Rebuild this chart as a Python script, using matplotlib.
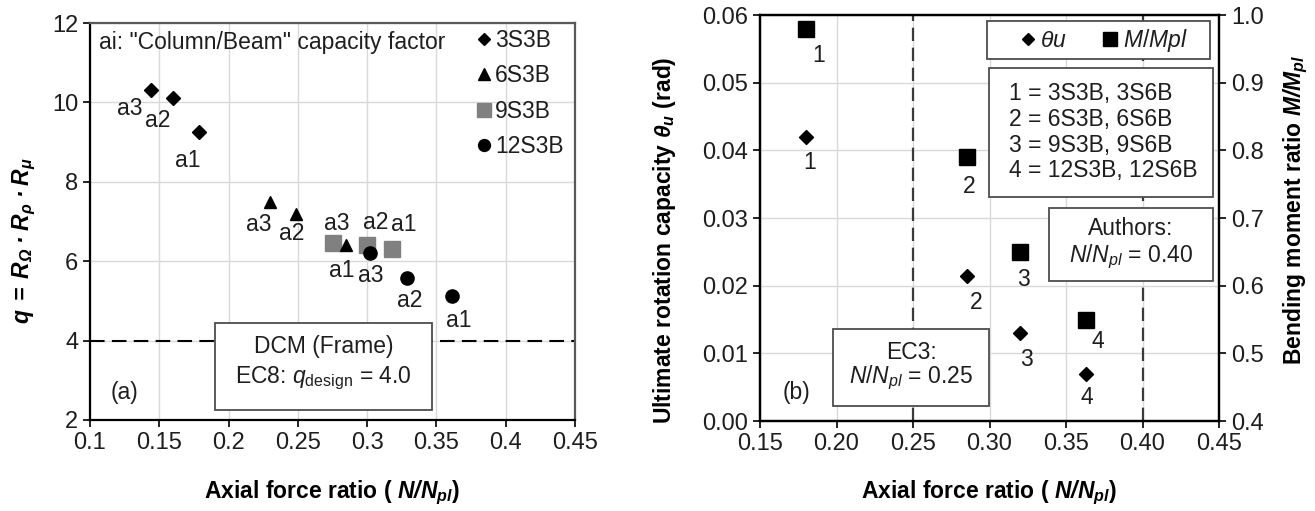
import matplotlib
matplotlib.use("Agg")
import matplotlib.pyplot as plt
from matplotlib.patches import Rectangle

plt.rcParams['font.family'] = ['Liberation Sans', 'DejaVu Sans']
plt.rcParams['mathtext.fontset'] = 'custom'
plt.rcParams['mathtext.rm'] = 'Liberation Sans'
plt.rcParams['mathtext.it'] = 'Liberation Sans:italic'
plt.rcParams['mathtext.bf'] = 'Liberation Sans:bold'
plt.rcParams['mathtext.bfit'] = 'Liberation Sans:bold:italic'
plt.rcParams['mathtext.default'] = 'it'

# ---------------- data: (a) behaviour factor vs axial force ratio ----------------
point_labels = ['a3', 'a2', 'a1']
x_3s3b = [0.144, 0.160, 0.179]
q_3s3b = [10.30, 10.10, 9.25]
x_6s3b = [0.230, 0.249, 0.285]
q_6s3b = [7.50, 7.20, 6.40]
x_9s3b = [0.275, 0.300, 0.318]
q_9s3b = [6.45, 6.40, 6.30]
x_12s3b = [0.302, 0.329, 0.361]
q_12s3b = [6.20, 5.58, 5.12]
q_design = 4.0

xticks_a = [0.1, 0.15, 0.2, 0.25, 0.3, 0.35, 0.4, 0.45]
xticklabels_a = ['0.1', '0.15', '0.2', '0.25', '0.3', '0.35', '0.4', '0.45']
yticks_a = [2, 4, 6, 8, 10, 12]

# ---------------- data: (b) rotation capacity / moment ratio ----------------
frame_ids = ['1', '2', '3', '4']
x_frames = [0.180, 0.285, 0.320, 0.363]
theta_u = [0.042, 0.0215, 0.013, 0.007]
m_ratio = [0.98, 0.79, 0.65, 0.55]
ec3_limit = 0.25
authors_limit = 0.40

xticks_b = [0.15, 0.20, 0.25, 0.30, 0.35, 0.40, 0.45]
yticks_b = [0.00, 0.01, 0.02, 0.03, 0.04, 0.05, 0.06]
yticks_b2 = [0.4, 0.5, 0.6, 0.7, 0.8, 0.9, 1.0]

# label offsets in pixels (right, down) relative to each marker
off_3s3b = [(-21, 18), (-15, 22), (-12, 28)]
off_6s3b = [(-11, 23), (-5, 20), (-5, 25)]
off_9s3b = [(4, -20), (9, -23), (12, -25)]
off_12s3b = [(1, 22), (2, 23), (7, 24)]
off_theta = [(4, 26), (10, 27), (6, 26), (1, 24)]
off_m = [(13, 27), (3, 29), (3, 28), (12, 22)]

FS_TICK = 17
FS = 16.5
TXT = '#1e1e1e'
GRID = '#d9d9d9'
BOXEDGE = '#4d4d4d'

W, H = 1315, 511
fig = plt.figure(figsize=(W / 100, H / 100), dpi=100)


def px_axes(x0, y0, x1, y1):
    return [x0 / W, 1 - y1 / H, (x1 - x0) / W, (y1 - y0) / H]


def label_points(ax, xs, ys, labels, offsets):
    for x, y, lab, (dx, dy) in zip(xs, ys, labels, offsets):
        ax.annotate(lab, (x, y), xytext=(dx * 0.72, -dy * 0.72),
                    textcoords='offset points', ha='center', va='center',
                    fontsize=FS, color=TXT)


def text_box(ax, x0, y0, x1, y1):
    ax.add_patch(Rectangle((x0, y0), x1 - x0, y1 - y0, transform=ax.transAxes,
                           facecolor='white', edgecolor=BOXEDGE, lw=1.3,
                           zorder=6, clip_on=False))


def style_ticks(ax):
    ax.tick_params(direction='out', length=5, width=1.2, colors='black',
                   labelsize=FS_TICK, labelcolor=TXT)


# ================= panel (a) =================
ax1 = fig.add_axes(px_axes(90, 23, 575, 420))
ax1.set_xlim(0.1, 0.45)
ax1.set_ylim(2, 12)
ax1.set_xticks(xticks_a)
ax1.set_xticklabels(xticklabels_a)
ax1.set_yticks(yticks_a)
ax1.grid(True, color=GRID, lw=1.0, zorder=0)
ax1.set_axisbelow(True)
style_ticks(ax1)
for s in ['left', 'bottom']:
    ax1.spines[s].set_color('black')
    ax1.spines[s].set_linewidth(1.6)
for s in ['top', 'right']:
    ax1.spines[s].set_color('#595959')
    ax1.spines[s].set_linewidth(1.6)

ax1.axhline(q_design, color='black', lw=1.5, ls=(0, (7, 3.5)), zorder=2)

h1, = ax1.plot(x_3s3b, q_3s3b, ls='none', marker='D', ms=7, color='black', label='3S3B', zorder=4)
h2, = ax1.plot(x_6s3b, q_6s3b, ls='none', marker='^', ms=9, color='black', label='6S3B', zorder=4)
h3, = ax1.plot(x_9s3b, q_9s3b, ls='none', marker='s', ms=11, color='#808080', label='9S3B', zorder=3)
h4, = ax1.plot(x_12s3b, q_12s3b, ls='none', marker='o', ms=9.5, color='black', label='12S3B', zorder=4)

label_points(ax1, x_3s3b, q_3s3b, point_labels, off_3s3b)
label_points(ax1, x_6s3b, q_6s3b, point_labels, off_6s3b)
label_points(ax1, x_9s3b, q_9s3b, point_labels, off_9s3b)
label_points(ax1, x_12s3b, q_12s3b, point_labels, off_12s3b)

ax1.legend(handles=[h1, h2, h3, h4], loc='upper left', bbox_to_anchor=(0.795, 0.985),
           frameon=False, fontsize=FS, borderpad=0, borderaxespad=0,
           handlelength=0.7, handletextpad=0.15, labelspacing=0.54,
           labelcolor=TXT, markerscale=0.9)

ax1.text(0.019, 0.952, 'ai: "Column/Beam" capacity factor', transform=ax1.transAxes,
         ha='left', va='center', fontsize=FS, color=TXT)

text_box(ax1, 0.258, 0.025, 0.705, 0.244)
ax1.text(0.4815, 0.184, 'DCM (Frame)', transform=ax1.transAxes, ha='center',
         va='center', fontsize=FS, color=TXT, zorder=7)
ax1.text(0.4815, 0.106, r'EC8: $q_{\mathrm{design}}$ = 4.0', transform=ax1.transAxes,
         ha='center', va='center', fontsize=FS, color=TXT, zorder=7)
ax1.text(0.072, 0.0705, '(a)', transform=ax1.transAxes, ha='center', va='center',
         fontsize=FS, color=TXT)

ax1.set_xlabel(r'Axial force ratio ( $\mathbfit{N/N_{pl}}$)', fontsize=FS,
               fontweight='bold', color='black')
ax1.xaxis.set_label_coords(0.5, -0.148)
ax1.set_ylabel('$\\mathbfit{q\\;=\\;R_{\\Omega}\\;\u00b7\\;R_{\\rho}\\;\u00b7\\;R_{\\mu}}$',
               fontsize=FS, color='black')
ax1.yaxis.set_label_coords(-0.107, 0.453)

# ================= panel (b) =================
ax2 = fig.add_axes(px_axes(760, 15, 1219, 421))
ax2.set_xlim(0.15, 0.45)
ax2.set_ylim(0.0, 0.06)
ax2.set_xticks(xticks_b)
ax2.set_xticklabels([f'{v:.2f}' for v in xticks_b])
ax2.set_yticks(yticks_b)
ax2.set_yticklabels([f'{v:.2f}' for v in yticks_b])
ax2.grid(True, color=GRID, lw=1.0, zorder=0)
ax2.set_axisbelow(True)
style_ticks(ax2)
for s in ax2.spines.values():
    s.set_color('black')
    s.set_linewidth(1.6)

for xv in (ec3_limit, authors_limit):
    ax2.axvline(xv, color='#3a3a3a', lw=1.6, ls=(0, (6, 3)), zorder=2)

ax2r = ax2.twinx()
ax2r.set_ylim(0.4, 1.0)
ax2r.set_yticks(yticks_b2)
ax2r.set_yticklabels([f'{v:.1f}' for v in yticks_b2])
style_ticks(ax2r)
for s in ax2r.spines.values():
    s.set_color('black')
    s.set_linewidth(1.6)

ht, = ax2.plot(x_frames, theta_u, ls='none', marker='D', ms=7, color='black',
               label=r'$\theta u$', zorder=4)
hm, = ax2r.plot(x_frames, m_ratio, ls='none', marker='s', ms=11.5, color='black',
                label=r'$M/Mpl$', zorder=4)
label_points(ax2, x_frames, theta_u, frame_ids, off_theta)
label_points(ax2r, x_frames, m_ratio, frame_ids, off_m)

# legend box
text_box(ax2r, 0.4946, 0.892, 0.980, 0.985)
leg = ax2r.legend(handles=[ht, hm], loc='center', bbox_to_anchor=(0.75, 0.938),
                  ncol=2, frameon=False, fontsize=FS, borderpad=0, borderaxespad=0,
                  handlelength=0.6, handletextpad=0.25, columnspacing=1.6,
                  labelcolor=TXT, markerscale=0.85)
leg.set_zorder(8)

# frame key box
text_box(ax2r, 0.499, 0.552, 0.987, 0.869)
ax2r.text(0.5425, 0.711, '1 = 3S3B, 3S6B\n2 = 6S3B, 6S6B\n3 = 9S3B, 9S6B\n4 = 12S3B, 12S6B',
          transform=ax2r.transAxes, ha='left', va='center', fontsize=FS,
          color=TXT, linespacing=1.15, zorder=7)

# proposed limit box
text_box(ax2r, 0.630, 0.345, 0.987, 0.525)
ax2r.text(0.808, 0.473, 'Authors:', transform=ax2r.transAxes, ha='center',
          va='center', fontsize=FS, color=TXT, zorder=7)
ax2r.text(0.808, 0.404, r'$N/N_{pl}$ = 0.40', transform=ax2r.transAxes, ha='center',
          va='center', fontsize=FS, color=TXT, zorder=7)

# EC3 limit box
text_box(ax2r, 0.159, 0.037, 0.499, 0.227)
ax2r.text(0.329, 0.1675, 'EC3:', transform=ax2r.transAxes, ha='center',
          va='center', fontsize=FS, color=TXT, zorder=7)
ax2r.text(0.329, 0.106, r'$N/N_{pl}$ = 0.25', transform=ax2r.transAxes, ha='center',
          va='center', fontsize=FS, color=TXT, zorder=7)

ax2r.text(0.0806, 0.069, '(b)', transform=ax2r.transAxes, ha='center', va='center',
          fontsize=FS, color=TXT)

ax2.set_xlabel(r'Axial force ratio ( $\mathbfit{N/N_{pl}}$)', fontsize=FS,
               fontweight='bold', color='black')
ax2.xaxis.set_label_coords(0.5, -0.142)
ax2.set_ylabel(r'Ultimate rotation capacity $\mathbfit{\theta_{u}}$ (rad)', fontsize=FS,
               fontweight='bold', color='black')
ax2.yaxis.set_label_coords(-0.179, 0.446)
ax2r.set_ylabel(r'Bending moment ratio $\mathbfit{M/M_{pl}}$', fontsize=FS,
                fontweight='bold', color='black')
ax2r.yaxis.set_label_coords(1.137, 0.52)

fig.savefig('out.png', dpi=100)
